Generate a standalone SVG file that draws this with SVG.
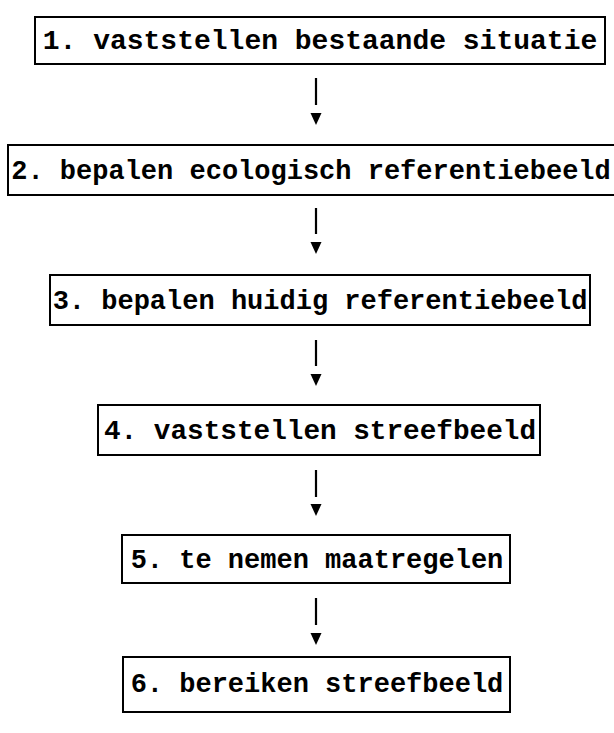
<svg xmlns="http://www.w3.org/2000/svg" width="614" height="733" viewBox="0 0 614 733">
<style>
.box{fill:#fff;stroke:#000;stroke-width:2}
.t{font-family:"Liberation Mono","Courier New",monospace;font-weight:bold;font-size:27px;fill:#000;text-anchor:middle}
.ln{stroke:#000;stroke-width:2.2}
.hd{fill:#000}
</style>
<rect width="614" height="733" fill="#fff"/>
<g id="n1"><rect class="box" x="35" y="17" width="570" height="47"/><text class="t" x="320" y="49" style="font-size:28px">1. vaststellen bestaande situatie</text></g>
<g id="n2"><rect class="box" x="8" y="145" width="612" height="50"/><text class="t" x="311" y="179">2. bepalen ecologisch referentiebeeld</text></g>
<g id="n3"><rect class="box" x="50" y="275" width="540" height="50"/><text class="t" x="320" y="309">3. bepalen huidig referentiebeeld</text></g>
<g id="n4"><rect class="box" x="98" y="405" width="442" height="50"/><text class="t" x="320" y="439" style="font-size:27.7px">4. vaststellen streefbeeld</text></g>
<g id="n5"><rect class="box" x="122" y="535" width="388" height="48"/><text class="t" x="317" y="568">5. te nemen maatregelen</text></g>
<g id="n6"><rect class="box" x="123" y="657" width="387" height="55"/><text class="t" x="317" y="692">6. bereiken streefbeeld</text></g>
<g id="connectors">
<line class="ln" x1="316" y1="78" x2="316" y2="105"/><polygon class="hd" points="310.5,113 321.5,113 316,125"/>
<line class="ln" x1="316" y1="208" x2="316" y2="234"/><polygon class="hd" points="310.5,242 321.5,242 316,254"/>
<line class="ln" x1="316" y1="340" x2="316" y2="366"/><polygon class="hd" points="310.5,374 321.5,374 316,386"/>
<line class="ln" x1="316" y1="470" x2="316" y2="497"/><polygon class="hd" points="310.5,504 321.5,504 316,516"/>
<line class="ln" x1="316" y1="598" x2="316" y2="625"/><polygon class="hd" points="310.5,633 321.5,633 316,645"/>
</g>
</svg>
